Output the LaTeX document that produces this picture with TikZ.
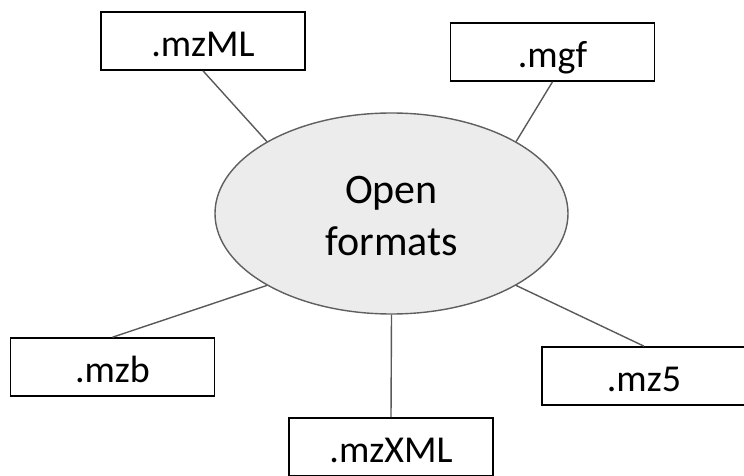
\documentclass[tikz,border=0pt]{standalone}
\usepackage{fontspec}
\setmainfont{Carlito}
\usetikzlibrary{shapes.geometric}

\definecolor{hubfill}{HTML}{ECECEC}
\definecolor{hubline}{HTML}{5F5F5F}
\definecolor{linkgray}{HTML}{595959}

\tikzset{
  fmtbox/.style={draw=black, line width=1.6pt, fill=white, rectangle,
    minimum width=204pt, minimum height=58pt, inner sep=0pt,
    text height=39pt, text depth=8pt,
    font=\fontsize{38}{45}\selectfont},
  hub/.style={ellipse, draw=hubline, line width=1.4pt, fill=hubfill,
    minimum width=353pt, minimum height=201pt, inner sep=0pt,
    align=center, text height=89pt, text depth=5pt,
    font=\fontsize{42}{52}\selectfont},
  link/.style={draw=linkgray, line width=1.4pt}
}

\begin{document}
\begin{tikzpicture}[x=1pt, y=-1pt]
  \useasboundingbox (0,0) rectangle (744,476);
  \clip (0,0) rectangle (744,476);

  % central hub
  \node[hub] (hub) at (391.5,213.5) {Open\\formats};

  % format boxes
  \node[fmtbox] (mzml)  at (203,41)    {.mzML};
  \node[fmtbox] (mgf)   at (552.5,52)  {.mgf};
  \node[fmtbox] (mzb)   at (112.5,367) {.mzb};
  \node[fmtbox] (mzfive) at (644,376)  {.mz5};
  \node[fmtbox] (mzxml) at (391,447)   {.mzXML};

  % connectors from the hub border to each box
  \draw[link] (hub.150) -- (mzml.south);
  \draw[link] (hub.30)  -- (mgf.south);
  \draw[link] (hub.210) -- (mzb.north);
  \draw[link] (hub.330) -- (mzfive.north);
  \draw[link] (hub.270) -- (mzxml.north);
\end{tikzpicture}
\end{document}
